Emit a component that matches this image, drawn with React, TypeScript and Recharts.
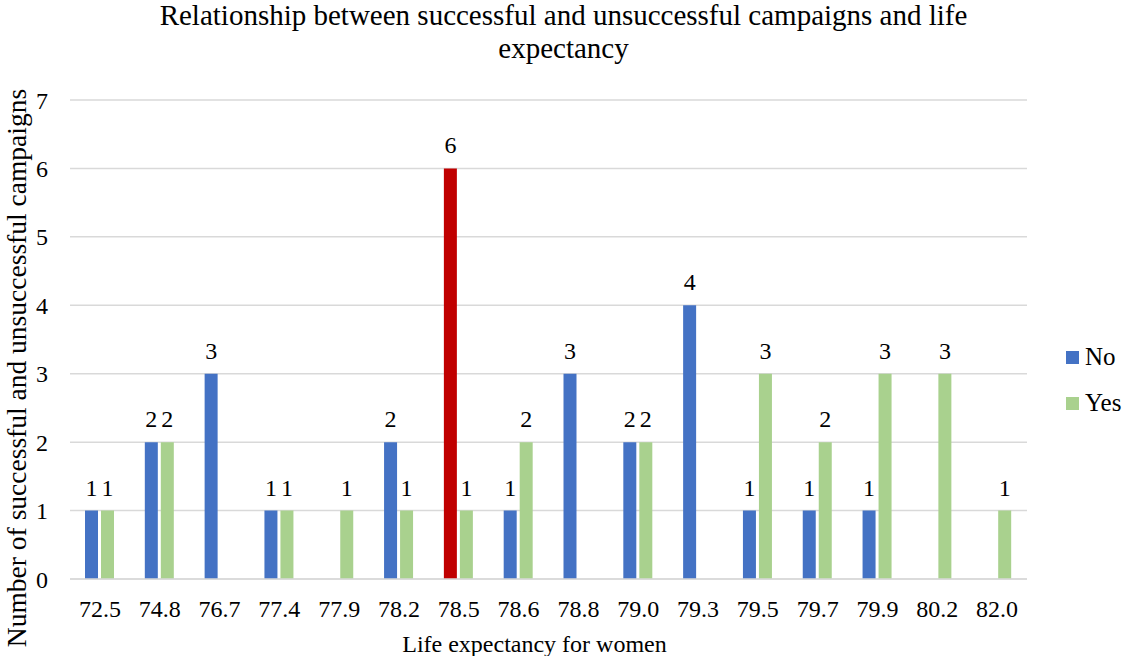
import { BarChart, Bar, XAxis, YAxis, CartesianGrid, LabelList, Cell } from "recharts";

const categories = ["72.5", "74.8", "76.7", "77.4", "77.9", "78.2", "78.5", "78.6", "78.8", "79.0", "79.3", "79.5", "79.7", "79.9", "80.2", "82.0"];
const noValues = [1, 2, 3, 1, null, 2, 6, 1, 3, 2, 4, 1, 1, 1, null, null];
const yesValues = [1, 2, null, 1, 1, 1, 1, 2, null, 2, null, 3, 2, 3, 3, 1];
const yTicks = [0, 1, 2, 3, 4, 5, 6, 7];
// the 78.5 bar is highlighted in red
const highlightIndex = 6;

const data = categories.map((c, i) => ({ cat: c, No: noValues[i], Yes: yesValues[i] }));

const FONT = '"Liberation Serif", "Times New Roman", serif';
const BLUE = "#4472C4";
const GREEN = "#A9D18E";
const RED = "#C00000";

const legendItems = [
  { name: "No", color: BLUE },
  { name: "Yes", color: GREEN },
];

function YTitle() {
  return (
    <text x={16} y={368} transform="rotate(-90, 16, 368)" textAnchor="middle" dominantBaseline="central" fill="#000" fontSize={27.5} fontFamily={FONT}>
      Number of successful and unsuccessful campaigns
    </text>
  );
}

export default function App() {
  return (
    <div style={{ position: "absolute", left: 0, top: 0, width: 1127, height: 656, background: "#fff", fontFamily: FONT, overflow: "hidden" }}>
      <div style={{ position: "absolute", left: 0, top: -1, width: 1127, textAlign: "center", fontSize: 29, lineHeight: "33px", color: "#000" }}>
        Relationship between successful and unsuccessful campaigns and life
        <br />
        expectancy
      </div>
      <div style={{ position: "absolute", left: 1066, top: 334, fontSize: 25, color: "#000" }}>
        {legendItems.map((it) => (
          <div key={it.name} style={{ display: "flex", alignItems: "center", height: 46 }}>
            <span style={{ width: 13, height: 13, background: it.color, display: "inline-block", marginRight: 6 }} />
            <span>{it.name}</span>
          </div>
        ))}
      </div>
      <BarChart width={1127} height={656} data={data} margin={{ top: 100, right: 100, left: 0, bottom: 0 }} barGap={3} barCategoryGap={15}>
        <CartesianGrid vertical={false} stroke="#d9d9d9" strokeWidth={1.5} />
        <XAxis
          dataKey="cat"
          height={77}
          tickLine={false}
          axisLine={{ stroke: "#d9d9d9", strokeWidth: 1.5 }}
          tick={{ fill: "#000", fontSize: 24, fontFamily: FONT }}
          tickSize={0}
          tickMargin={21}
          label={{ value: "Life expectancy for women", position: "insideBottom", offset: 4, dx: -14, fill: "#000", fontSize: 24, fontFamily: FONT }}
        />
        <YAxis
          width={70}
          domain={[0, 7]}
          ticks={yTicks}
          axisLine={false}
          tickLine={false}
          tickSize={0}
          tickMargin={22}
          tick={{ fill: "#000", fontSize: 24, fontFamily: FONT }}
          label={{ content: () => <YTitle /> }}
        />
        <Bar dataKey="No" fill={BLUE} isAnimationActive={false}>
          {data.map((_, i) => (
            <Cell key={i} fill={i === highlightIndex ? RED : BLUE} />
          ))}
          <LabelList dataKey="No" position="top" offset={15} fill="#000" fontSize={24} fontFamily={FONT} />
        </Bar>
        <Bar dataKey="Yes" fill={GREEN} isAnimationActive={false}>
          <LabelList dataKey="Yes" position="top" offset={15} fill="#000" fontSize={24} fontFamily={FONT} />
        </Bar>
      </BarChart>
    </div>
  );
}
